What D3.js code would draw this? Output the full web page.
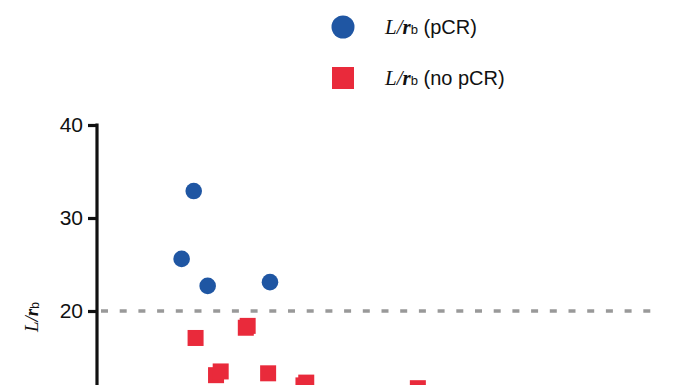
<!DOCTYPE html>
<html><head><meta charset="utf-8">
<script src="https://cdn.jsdelivr.net/npm/d3@7"></script>
<style>body{margin:0;background:#fff}svg{display:block}</style>
</head><body>
<script>
const yTicks = [20, 30, 40];
const threshold = 20;
const pcrX = [10.4, 9.1, 11.9, 18.6];
const pcrY = [32.9, 25.6, 22.7, 23.1];
const noPcrX = [10.6, 16.0, 16.2, 12.8, 13.3, 18.4, 22.2, 22.5, 34.5];
const noPcrY = [17.1, 18.2, 18.4, 13.1, 13.5, 13.3, 12.0, 12.3, 11.7];
const legendLabels = ["(pCR)", "(no pCR)"];

const W = 696, H = 385;
const blue = "#1f56a3", red = "#e92a3b";
const svg = d3.select("body").append("svg").attr("width", W).attr("height", H);

const x = d3.scaleLinear().domain([0, 60]).range([97, 655]);
const y = d3.scaleLinear().domain([0, 40]).range([497, 125]);

// threshold line
svg.append("line")
  .attr("x1", x(0) + 4).attr("x2", 657)
  .attr("y1", y(threshold)).attr("y2", y(threshold))
  .attr("stroke", "#999").attr("stroke-width", 3.5)
  .attr("stroke-dasharray", "7,11.7");

// axis
const ax = svg.append("g").attr("transform", `translate(${x(0)},0)`)
  .call(d3.axisLeft(y).tickValues(yTicks).tickSize(9).tickPadding(5).tickSizeOuter(0));
ax.select(".domain").attr("stroke", "#111").attr("stroke-width", 3.2);
ax.selectAll(".tick line").attr("stroke", "#111").attr("stroke-width", 3.2);
ax.selectAll(".tick text").attr("font-family", "Liberation Sans, Arial, sans-serif")
  .attr("font-size", 21).attr("fill", "#111");
ax.select(".domain").attr("d", `M0,${y(40) - 1.6}V${H + 20}`);

// y label
const yl = svg.append("text").attr("transform", `translate(38,${317}) rotate(-90)`)
  .attr("text-anchor", "middle").attr("fill", "#111");
yl.append("tspan").attr("font-family", "Liberation Serif, Times New Roman, serif").attr("font-style", "italic").attr("font-size", 19).text("L/");
yl.append("tspan").attr("font-family", "Liberation Serif, Times New Roman, serif").attr("font-style", "italic").attr("font-weight", "bold").attr("font-size", 19).text("r");
yl.append("tspan").attr("font-family", "Liberation Sans, Arial, sans-serif").attr("font-size", 12).attr("dy", 1).text("b");

// points
svg.selectAll("circle.pcr").data(pcrX.map((d, i) => [d, pcrY[i]])).enter()
  .append("circle").attr("class", "pcr")
  .attr("cx", d => x(d[0])).attr("cy", d => y(d[1])).attr("r", 8.3).attr("fill", blue);
const s = 16;
svg.selectAll("rect.nopcr").data(noPcrX.map((d, i) => [d, noPcrY[i]])).enter()
  .append("rect").attr("class", "nopcr")
  .attr("x", d => x(d[0]) - s / 2).attr("y", d => y(d[1]) - s / 2)
  .attr("width", s).attr("height", s).attr("fill", red);

// legend
const lg = svg.append("g");
lg.append("circle").attr("cx", 343).attr("cy", 27).attr("r", 11.5).attr("fill", blue);
lg.append("rect").attr("x", 332).attr("y", 67).attr("width", 22).attr("height", 22).attr("fill", red);
[34, 85].forEach((by, i) => {
  const t = lg.append("text").attr("x", 385).attr("y", by).attr("fill", "#111");
  t.append("tspan").attr("font-family", "Liberation Serif, Times New Roman, serif").attr("font-style", "italic").attr("font-size", 21).text("L/");
  t.append("tspan").attr("font-family", "Liberation Serif, Times New Roman, serif").attr("font-style", "italic").attr("font-weight", "bold").attr("font-size", 21).text("r");
  t.append("tspan").attr("font-family", "Liberation Sans, Arial, sans-serif").attr("font-size", 13).text("b");
  t.append("tspan").attr("font-family", "Liberation Sans, Arial, sans-serif").attr("font-size", 20).text(" " + legendLabels[i]);
});
</script>
</body></html>
